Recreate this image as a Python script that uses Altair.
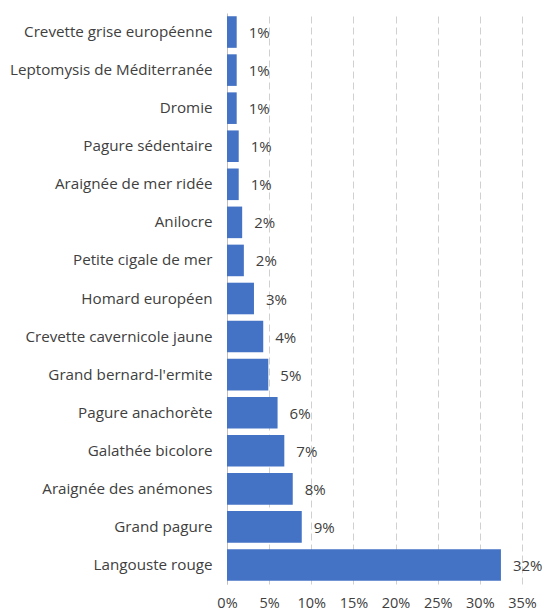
import altair as alt
import pandas as pd

categories = [
    "Crevette grise européenne",
    "Leptomysis de Méditerranée",
    "Dromie",
    "Pagure sédentaire",
    "Araignée de mer ridée",
    "Anilocre",
    "Petite cigale de mer",
    "Homard européen",
    "Crevette cavernicole jaune",
    "Grand bernard-l'ermite",
    "Pagure anachorète",
    "Galathée bicolore",
    "Araignée des anémones",
    "Grand pagure",
    "Langouste rouge",
]
values = [0.0115, 0.0115, 0.0115, 0.0139, 0.0139, 0.018, 0.020, 0.032,
          0.043, 0.049, 0.060, 0.068, 0.078, 0.0887, 0.325]
labels = ["1%", "1%", "1%", "1%", "1%", "2%", "2%", "3%",
          "4%", "5%", "6%", "7%", "8%", "9%", "32%"]

df = pd.DataFrame({"cat": categories, "val": values, "lab": labels})

FONT = "Open Sans"
TXT = "#404040"

base = alt.Chart(df)

x = alt.X(
    "val:Q",
    scale=alt.Scale(domain=[0, 0.35], nice=False),
    axis=alt.Axis(
        format=".0%", values=[0, 0.05, 0.1, 0.15, 0.2, 0.25, 0.3, 0.35],
        title=None, domain=False, ticks=False, grid=True, labelFlush=False,
        labelOverlap=False,
        gridColor="#d0d0d0", gridDash=[7, 4], gridWidth=1,
        labelFont=FONT, labelFontSize=14.5, labelColor=TXT, labelPadding=12,
    ),
)
y = alt.Y(
    "cat:N", sort=categories, title=None,
    scale=alt.Scale(paddingInner=0.17, paddingOuter=0.085),
    axis=alt.Axis(
        domain=True, domainColor="#bfbfbf", domainWidth=1, ticks=False,
        labelFont=FONT, labelFontSize=15.2, labelColor=TXT, labelPadding=15,
        labelLimit=300,
    ),
)

bars = base.mark_bar(color="#4472C4").encode(x=x, y=y)
text = base.mark_text(
    align="left", baseline="middle", dx=12, dy=1, font=FONT, fontSize=15, color=TXT
).encode(x=alt.X("val:Q"), y=alt.Y("cat:N", sort=categories), text="lab:N")

chart = (
    (bars + text)
    .properties(
        width=295, height=571,
        autosize=alt.AutoSizeParams(type="none"),
        padding={"left": 227, "top": 13, "right": 21, "bottom": 28},
        background="white",
    )
    .configure_view(stroke=None)
)

chart.save("out.html", embed_options={"renderer": "svg", "actions": False})
